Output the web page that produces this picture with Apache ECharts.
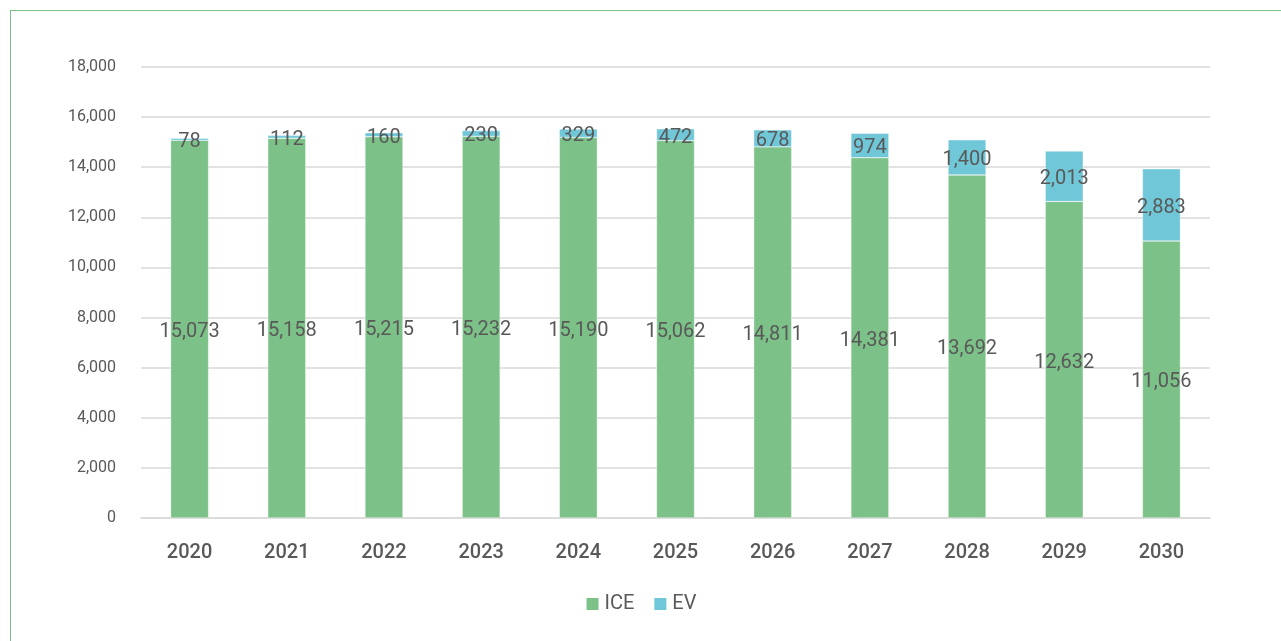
<!DOCTYPE html>
<html>
<head>
<meta charset="utf-8">
<script src="https://cdn.jsdelivr.net/npm/echarts@6/dist/echarts.min.js"></script>
<style>
  html, body { margin: 0; padding: 0; background: #fff; overflow: hidden; }
  .frame {
    position: absolute; left: 10px; top: 10px; width: 1400px; height: 800px;
    border-left: 1.5px solid #7cc187; border-top: 1.5px solid #7cc187;
  }
  #chart { position: absolute; left: 0; top: 0; width: 1281px; height: 641px; }
</style>
</head>
<body>
<div class="frame"></div>
<div id="chart"></div>
<script>
const years = ['2020', '2021', '2022', '2023', '2024', '2025', '2026', '2027', '2028', '2029', '2030']
const iceValues = [15073, 15158, 15215, 15232, 15190, 15062, 14811, 14381, 13692, 12632, 11056]
const evValues = [78, 112, 160, 230, 329, 472, 678, 974, 1400, 2013, 2883]

const textColor = '#595959'
const fontFamily = 'Roboto, sans-serif'

const chart = echarts.init(document.getElementById('chart'))

const segmentLabel = {
  show: true,
  position: 'inside',
  offset: [0, 3],
  color: textColor,
  fontSize: 20,
  fontFamily: fontFamily,
  formatter: p => p.value.toLocaleString('en-US')
}

const option = {
  animation: false,
  color: ['#7cc187', '#70c7d8'],
  textStyle: { fontFamily: fontFamily },
  grid: { left: 141, right: 71, top: 67, bottom: 123 },
  legend: {
    bottom: 22,
    left: 'center',
    icon: 'rect',
    itemWidth: 14,
    itemHeight: 14,
    itemGap: 18,
    textStyle: { color: textColor, fontSize: 20, fontFamily: fontFamily },
    data: ['ICE', 'EV']
  },
  xAxis: {
    type: 'category',
    data: years,
    axisLine: { lineStyle: { color: '#d9d9d9', width: 1.5 } },
    axisTick: { show: false },
    axisLabel: { color: textColor, fontSize: 20, fontWeight: 500, margin: 25 }
  },
  yAxis: {
    type: 'value',
    min: 0,
    max: 18000,
    interval: 2000,
    axisLine: { show: false },
    axisTick: { show: false },
    splitLine: { lineStyle: { color: '#d9d9d9', width: 1.5 } },
    axisLabel: {
      color: textColor,
      fontSize: 16,
      margin: 25,
      formatter: v => v.toLocaleString('en-US')
    }
  },
  series: [
    {
      name: 'ICE',
      type: 'bar',
      stack: 'total',
      barWidth: '39%',
      data: iceValues,
      itemStyle: { borderColor: '#ffffff', borderWidth: 0.4 },
      label: segmentLabel
    },
    {
      name: 'EV',
      type: 'bar',
      stack: 'total',
      barWidth: '39%',
      data: evValues,
      itemStyle: { borderColor: '#ffffff', borderWidth: 0.4 },
      label: segmentLabel
    }
  ]
}

chart.setOption(option)
</script>
</body>
</html>
